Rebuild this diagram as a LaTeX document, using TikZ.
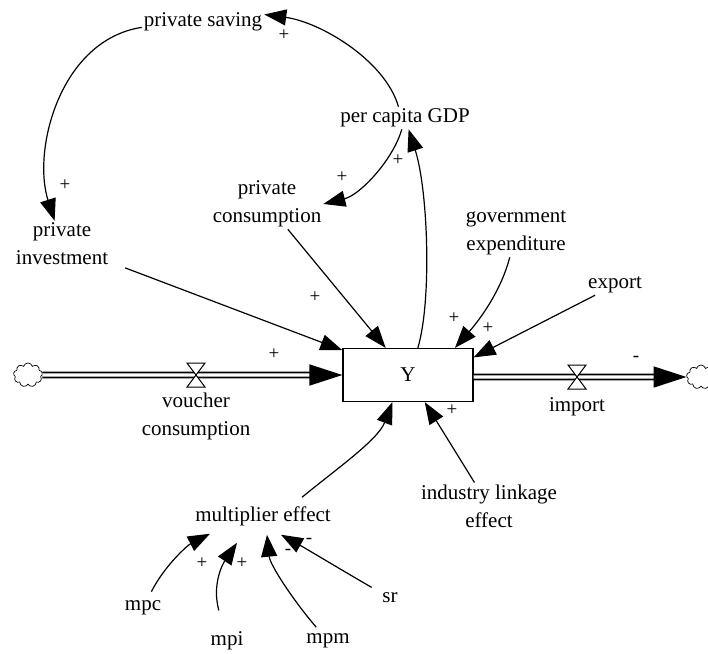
\documentclass[tikz,border=0pt]{standalone}
\usepackage{fontspec}
\setmainfont{Liberation Serif}
\usetikzlibrary{arrows.meta,shapes.symbols}
\begin{document}
\begin{tikzpicture}[x=1pt,y=-1pt,line width=1.2pt,
  every node/.style={font=\fontsize{21}{28}\selectfont,inner sep=1.5pt,align=center},
  link/.style={-{Triangle[length=22pt,width=16pt]}},
  pipe/.style={double,double distance=3.4pt,line width=1.6pt,-{Triangle[length=33pt,width=21pt]}},
  valve/.style={fill=white,line width=1pt},
  sink/.style={cloud,cloud puffs=9,draw,line width=0.7pt,minimum width=29pt,minimum height=24pt,inner sep=0pt},
  sgn/.style={font=\fontsize{19}{19}\selectfont,inner sep=0pt}]
\useasboundingbox (0,0) rectangle (708,653);
\node[draw,minimum width=130pt,minimum height=53pt] (Y) at (408,375) {Y};
\node (ps) at (203,22) {private saving};
\node (pcg) at (405,118) {per capita GDP};
\node (pc) at (267,204) {private\\consumption};
\node (pi) at (62,244) {private\\investment};
\node (ge) at (516,233) {government\\expenditure};
\node (ex) at (615,285) {export};
\node (il) at (489,506) {industry linkage\\effect};
\node (me) at (263,516) {multiplier effect};
\node (mpc) at (143,608) {mpc};
\node (mpi) at (227,641) {mpi};
\node (mpm) at (328,641) {mpm};
\node (sr) at (390,598) {sr};
\node[sink] (lc) at (28,375) {};
\node[sink] (rc) at (701,377) {};
\coordinate (vc) at (196,375);
\coordinate (im) at (577,377);
\node (vcl) at (196,416) {voucher\\consumption};
\node (iml) at (577,407) {import};
\draw[pipe] (lc) -- (Y);
\draw[pipe] (Y.east |- im) -- (rc);
\draw[valve] (vc) ++(-9,-12) -- ++(18,0) -- ++(-18,24) -- ++(18,0) -- cycle;
\draw[valve] (im) ++(-9,-12) -- ++(18,0) -- ++(-18,24) -- ++(18,0) -- cycle;
\draw[link] (pcg.120) .. controls (385,60) and (320,22) .. (ps.7);
\draw[link] (ps.185) .. controls (60,40) and (32,150) .. (pi);
\draw[link] (pcg) .. controls (393,160) and (360,195) .. (pc.east);
\draw[link] (Y.70) .. controls (432,300) and (428,190) .. (pcg);
\draw[link] (pc) -- (Y);
\draw[link,shorten <=16pt] (pi) -- (Y);
\draw[link] (ge) .. controls (500,295) and (475,325) .. (Y.30);
\draw[link] (ex) -- (Y.15);
\draw[link] (il) -- (Y);
\draw[link] ([xshift=39pt,yshift=7pt]me.north) .. controls (335,470) and (378,440) .. (Y.240);
\draw[link,shorten <=8pt] (mpc) .. controls (165,565) and (188,545) .. ([xshift=-53pt,yshift=-6pt]me.south);
\draw[link,shorten <=20pt] (mpi) .. controls (212,585) and (222,565) .. ([xshift=-26pt,yshift=-15pt]me.south);
\draw[link,shorten <=6pt] (mpm) .. controls (293,600) and (270,565) .. ([xshift=4pt,yshift=-7pt]me.south);
\draw[link,shorten <=10pt] (sr) .. controls (345,572) and (305,548) .. ([xshift=18pt,yshift=-7pt]me.south);
%\draw[red] (0,0) grid[step=50] (708,653);
\node[sgn] (s1) at (65,185) {+};
\node[sgn] (s2) at (284,35) {+};
\node[sgn] (s3) at (398,160) {+};
\node[sgn] (s4) at (342,177) {+};
\node[sgn] (s5) at (315,297) {+};
\node[sgn] (s6) at (274,354) {+};
\node[sgn] (s7) at (454,318) {+};
\node[sgn] (s8) at (488,328) {+};
\node[sgn] (s9) at (452,410) {+};
\node[sgn] (s10) at (636,359) {-};
\node[sgn] (s11) at (202,563) {+};
\node[sgn] (s12) at (242,563) {+};
\node[sgn] (s13) at (309,541) {-};
\node[sgn] (s14) at (288,552) {-};
\end{tikzpicture}
\end{document}
